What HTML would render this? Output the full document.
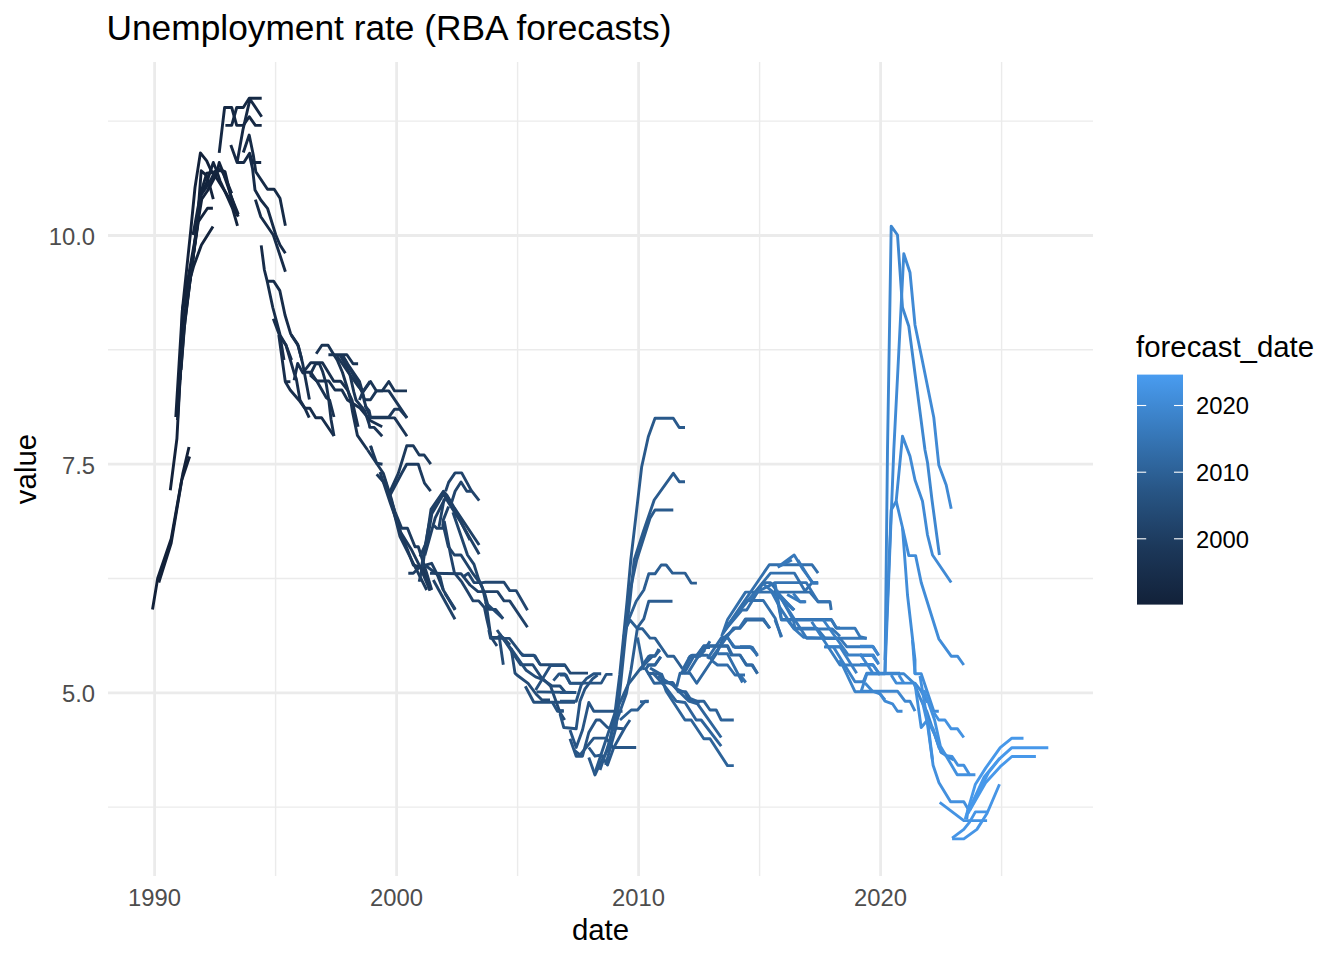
<!DOCTYPE html>
<html><head><meta charset="utf-8"><style>
html,body{margin:0;padding:0;background:#fff;width:1344px;height:960px;overflow:hidden}
svg{display:block}
text{font-family:"Liberation Sans",sans-serif}
</style></head><body>
<svg width="1344" height="960" viewBox="0 0 1344 960">
<defs><linearGradient id="cb" x1="0" y1="1" x2="0" y2="0">
<stop offset="0" stop-color="#122139"/>
<stop offset="0.25" stop-color="#1c385a"/>
<stop offset="0.5" stop-color="#285686"/>
<stop offset="0.75" stop-color="#3779bb"/>
<stop offset="1" stop-color="#499cf0"/>
</linearGradient></defs>
<rect width="1344" height="960" fill="#fff"/>
<line x1="108" x2="1093" y1="121.17" y2="121.17" stroke="#ebebeb" stroke-width="1.4"/>
<line x1="108" x2="1093" y1="349.82" y2="349.82" stroke="#ebebeb" stroke-width="1.4"/>
<line x1="108" x2="1093" y1="578.47" y2="578.47" stroke="#ebebeb" stroke-width="1.4"/>
<line x1="108" x2="1093" y1="807.12" y2="807.12" stroke="#ebebeb" stroke-width="1.4"/>
<line y1="62" y2="876" x1="275.60" x2="275.60" stroke="#ebebeb" stroke-width="1.4"/>
<line y1="62" y2="876" x1="517.60" x2="517.60" stroke="#ebebeb" stroke-width="1.4"/>
<line y1="62" y2="876" x1="759.60" x2="759.60" stroke="#ebebeb" stroke-width="1.4"/>
<line y1="62" y2="876" x1="1001.60" x2="1001.60" stroke="#ebebeb" stroke-width="1.4"/>
<line x1="108" x2="1093" y1="235.50" y2="235.50" stroke="#ebebeb" stroke-width="2.8"/>
<line x1="108" x2="1093" y1="464.15" y2="464.15" stroke="#ebebeb" stroke-width="2.8"/>
<line x1="108" x2="1093" y1="692.80" y2="692.80" stroke="#ebebeb" stroke-width="2.8"/>
<line y1="62" y2="876" x1="154.60" x2="154.60" stroke="#ebebeb" stroke-width="2.8"/>
<line y1="62" y2="876" x1="396.60" x2="396.60" stroke="#ebebeb" stroke-width="2.8"/>
<line y1="62" y2="876" x1="638.60" x2="638.60" stroke="#ebebeb" stroke-width="2.8"/>
<line y1="62" y2="876" x1="880.60" x2="880.60" stroke="#ebebeb" stroke-width="2.8"/>
<g stroke-width="2.9" stroke-linejoin="round" stroke-linecap="butt"><polyline fill="none" stroke="#122139" points="152.5,609.6 157.7,578.3 171.2,538.8 182.7,474.2 189.0,447.0"/>
<polyline fill="none" stroke="#122139" points="158.8,582.5 171.2,543.0 181.7,480.4 189.6,456.5"/>
<polyline fill="none" stroke="#13223b" points="170.3,490.2 176.9,438.8 181.3,355.6 182.4,309.7 190.8,230.0 195.0,187.5 200.4,152.9 206.7,160.8 210.8,170.0 216.7,178.3 228.3,196.7 238.3,216.7"/>
<polyline fill="none" stroke="#13233c" points="175.8,417.0 182.4,309.7 196.7,230.0 201.2,170.8 205.0,174.2 207.5,177.5 213.3,199.2"/>
<polyline fill="none" stroke="#13233c" points="177.5,420.0 183.0,330.0 197.5,225.0 201.7,199.2 207.5,190.8 213.3,180.0 216.7,173.3 219.2,162.5 222.5,170.8 228.3,187.5 237.5,215.8"/>
<polyline fill="none" stroke="#13233c" points="178.0,400.0 184.0,320.0 198.3,221.7 207.5,208.3 212.9,208.3"/>
<polyline fill="none" stroke="#13243d" points="180.0,380.0 184.0,330.0 200.8,193.3 205.8,185.0 213.3,162.5 216.7,170.8 220.0,180.8 225.0,191.7 232.5,208.3 237.5,225.8"/>
<polyline fill="none" stroke="#13243d" points="181.0,370.0 185.0,320.0 201.7,190.0 206.7,173.3 213.3,172.5 218.3,169.2 225.0,171.7 230.8,195.8 238.3,214.2"/>
<polyline fill="none" stroke="#13243d" points="182.8,309.6 188.3,285.6 193.7,265.9 201.4,245.1 213.0,226.6"/>
<polyline fill="none" stroke="#152843" points="219.2,152.9 224.6,107.5 231.7,107.5 236.7,125.4 243.3,125.4 249.2,116.7 255.4,125.4 261.7,125.4"/>
<polyline fill="none" stroke="#152944" points="225.4,125.4 231.7,125.4 236.7,107.5 243.3,107.5 249.2,98.3 261.7,98.3"/>
<polyline fill="none" stroke="#162945" points="230.8,145.0 237.1,162.5 242.9,130.0 250.0,99.2 261.7,116.7"/>
<polyline fill="none" stroke="#162a46" points="237.1,162.5 243.8,162.5 249.6,153.3 252.5,162.5 261.2,162.5"/>
<polyline fill="none" stroke="#162b47" points="243.3,152.5 249.2,135.0 253.3,155.0 255.8,171.7 267.5,189.2 274.2,189.2 280.0,198.3 285.4,225.8"/>
<polyline fill="none" stroke="#162b48" points="249.2,154.2 252.5,168.3 255.0,190.0 260.8,200.0 267.5,208.3 275.8,235.0 280.0,245.0 285.4,253.3"/>
<polyline fill="none" stroke="#172c49" points="255.4,199.6 260.8,216.7 273.3,235.0 285.4,271.7"/>
<polyline fill="none" stroke="#172c49" points="261.2,245.4 264.4,270.0 267.2,281.2 273.7,281.2 279.8,290.6 285.0,315.0 290.6,333.7 297.6,344.0 301.9,360.0"/>
<polyline fill="none" stroke="#172d4a" points="267.2,281.2 272.8,307.5 280.3,335.6 285.9,345.0 291.6,360.0"/>
<polyline fill="none" stroke="#182e4b" points="273.3,318.7 280.3,337.5 284.0,360.0"/>
<polyline fill="none" stroke="#182e4c" points="278.8,335.0 285.3,381.7 290.2,390.0 299.0,400.2 304.8,408.2 309.9,408.2 315.7,417.7 321.6,417.7 334.0,436.0"/>
<polyline fill="none" stroke="#182e4c" points="278.8,335.0 286.0,345.2 294.1,372.9 296.3,378.8 300.0,400.0 304.8,408.2 309.2,417.7"/>
<polyline fill="none" stroke="#182f4d" points="285.3,381.7 290.4,381.7"/>
<polyline fill="none" stroke="#18304e" points="291.2,335.0 298.4,346.0 302.8,364.2 309.4,399.5"/>
<polyline fill="none" stroke="#19304f" points="294.1,380.2 297.7,363.4 302.8,372.9 310.8,362.7 322.5,362.7 333.8,381.2 340.6,381.2 347.5,390.0 352.0,400.0 358.1,426.7"/>
<polyline fill="none" stroke="#193150" points="302.1,372.2 310.8,372.2 316.7,381.0 328.8,381.0 335.0,390.0 341.9,390.0 347.5,400.0 360.0,408.0 365.0,414.0 370.5,420.8 382.2,426.7"/>
<polyline fill="none" stroke="#193251" points="310.0,375.0 315.6,363.8 319.4,363.8 322.5,371.2 326.2,383.8 328.8,400.0 331.0,419.2 334.0,436.0"/>
<polyline fill="none" stroke="#193251" points="310.0,375.0 316.9,381.2 326.2,397.5 329.6,400.2 334.0,417.0"/>
<polyline fill="none" stroke="#1a3352" points="316.2,353.8 321.9,345.3 328.1,345.3 333.1,353.4 337.5,360.6 342.5,372.5 347.5,388.8 350.6,400.0 352.3,410.6 357.4,435.4 367.6,450.0"/>
<polyline fill="none" stroke="#1a3454" points="328.4,354.7 346.9,354.7 353.1,363.8 358.1,363.8"/>
<polyline fill="none" stroke="#1b3556" points="340.0,355.0 345.0,363.8 350.0,375.0 353.8,391.9 356.0,400.0 364.7,410.6 369.1,424.0 369.8,427.4 374.2,427.4 382.2,436.2"/>
<polyline fill="none" stroke="#1b3556" points="342.5,355.0 347.5,363.8 359.4,381.2 362.5,391.9 364.0,400.0 366.0,407.0 370.5,417.9 394.6,417.9 407.0,436.2"/>
<polyline fill="none" stroke="#1b3555" points="337.0,356.0 348.0,372.0 358.0,386.0 363.2,391.7 370.5,381.5 376.4,390.9 382.2,390.9 388.8,381.5 394.6,390.9 407.0,390.9"/>
<polyline fill="none" stroke="#1b3657" points="345.0,360.0 355.0,378.0 362.0,392.0 364.7,399.7 370.5,399.7 376.4,390.9 388.8,390.9 407.0,417.9"/>
<polyline fill="none" stroke="#1c385a" points="364.7,405.5 369.1,410.6 370.5,417.2 388.8,417.2 394.6,409.2 399.6,409.2 407.0,417.9"/>
<polyline fill="none" stroke="#1c3759" points="370.0,381.2 363.1,391.2 359.4,400.0"/>
<polyline fill="none" stroke="#1c395b" points="370.5,445.6 372.0,450.0"/>
<polyline fill="none" stroke="#1d3a5c" points="376.7,474.2 383.3,481.7 389.2,493.3 398.3,473.3 406.7,445.8 413.3,445.8 419.2,455.0 424.2,455.0 430.8,464.2"/>
<polyline fill="none" stroke="#1d3b5f" points="389.2,496.7 401.7,473.3 406.7,464.2 418.3,464.2 420.1,470.0 424.5,483.1 430.7,491.2"/>
<polyline fill="none" stroke="#1c385a" points="367.6,450.0 383.3,473.3 391.7,500.0 398.3,526.7 408.3,551.7 413.3,565.0 423.3,568.3 430.0,590.0"/>
<polyline fill="none" stroke="#1c395b" points="370.8,446.7 376.7,463.3 382.5,464.2"/>
<polyline fill="none" stroke="#1d3b5e" points="385.0,480.0 393.3,510.0 400.0,536.7 413.3,563.3 426.7,590.0"/>
<polyline fill="none" stroke="#1d3b5e" points="387.0,488.0 395.0,511.7 401.7,528.3 407.5,528.3 415.0,546.7 418.3,546.7 426.7,573.3 431.7,590.0"/>
<polyline fill="none" stroke="#1e3e63" points="408.3,573.3 413.3,573.3 420.0,566.7 431.7,563.3 436.7,573.3 443.3,590.0"/>
<polyline fill="none" stroke="#1f4065" points="419.2,581.7 423.3,561.7 431.0,509.4 443.4,491.2 447.1,495.5 454.4,507.9 479.2,545.0"/>
<polyline fill="none" stroke="#1f4065" points="420.0,556.7 427.4,540.0 431.8,513.8 443.4,494.1 448.6,502.8 460.2,521.1 479.2,554.2"/>
<polyline fill="none" stroke="#21436b" points="445.6,491.2 448.6,482.4 455.1,472.9 461.7,472.9 471.2,490.4 479.2,500.6"/>
<polyline fill="none" stroke="#21446c" points="451.5,502.8 455.1,491.2 461.0,482.0 466.8,491.2 471.2,491.2"/>
<polyline fill="none" stroke="#204268" points="434.0,525.4 436.9,528.4 442.7,528.4 443.4,519.6 448.6,506.5"/>
<polyline fill="none" stroke="#204369" points="439.0,526.9 444.2,498.4"/>
<polyline fill="none" stroke="#20436a" points="443.0,524.0 448.3,546.7 454.4,555.0 461.0,555.0 473.0,573.7 480.6,584.0 484.4,592.5 489.0,609.4 495.6,609.4 503.1,618.7"/>
<polyline fill="none" stroke="#21456c" points="452.9,512.3 462.4,540.0 467.5,555.0 474.0,564.4 478.7,579.4 482.5,587.8 486.2,603.7 490.9,637.5 503.0,637.5 510.0,645.0"/>
<polyline fill="none" stroke="#21436b" points="444.2,521.1 447.8,540.0 450.6,555.0 454.4,572.8 461.9,582.2 467.5,591.6 473.1,600.9 478.7,600.9 484.4,607.5 487.0,620.0 491.0,637.0 497.0,646.0"/>
<polyline fill="none" stroke="#204168" points="430.0,573.3 461.0,573.7 470.0,585.0 478.0,591.6 497.5,591.6 504.0,600.9 509.7,600.9 527.5,627.2"/>
<polyline fill="none" stroke="#22466f" points="463.3,576.7 468.3,573.3 474.0,582.6 482.5,582.6 485.3,582.2 504.0,582.2 509.7,590.6 516.2,590.6 527.5,610.3"/>
<polyline fill="none" stroke="#234973" points="485.0,602.0 503.1,618.7"/>
<polyline fill="none" stroke="#1f4166" points="425.0,565.0 440.0,576.7 443.3,590.0 455.0,610.0"/>
<polyline fill="none" stroke="#204268" points="433.3,580.0 455.0,619.2"/>
<polyline fill="none" stroke="#21436b" points="445.0,593.4 455.3,609.4"/>
<polyline fill="none" stroke="#234a74" points="488.8,630.0 490.6,638.4 509.4,638.4 522.5,655.3 533.8,655.3 540.3,664.7 564.7,664.7 570.3,673.1 588.0,673.1"/>
<polyline fill="none" stroke="#244b76" points="497.0,630.0 505.6,642.2 520.6,664.7 532.8,664.7 541.0,677.0 550.6,686.2 560.0,712.5 564.7,720.0"/>
<polyline fill="none" stroke="#244b76" points="499.0,635.0 503.3,664.7"/>
<polyline fill="none" stroke="#244b76" points="499.5,634.0 511.2,648.8 515.0,673.1 516.9,675.0 528.1,683.4 536.0,694.0 542.0,700.0 550.0,700.0"/>
<polyline fill="none" stroke="#244d79" points="511.2,648.8 526.2,670.3 535.6,676.9 543.1,679.7 552.0,686.0 560.0,686.0 565.0,692.0"/>
<polyline fill="none" stroke="#254f7c" points="525.3,686.2 533.8,702.2 575.0,702.2"/>
<polyline fill="none" stroke="#26507e" points="535.6,690.0 550.6,665.6 565.0,665.6"/>
<polyline fill="none" stroke="#275382" points="553.4,680.6 559.0,674.0 564.7,674.0 570.3,683.4 580.0,683.4"/>
<polyline fill="none" stroke="#26517e" points="536.5,691.9 576.2,692.5"/>
<polyline fill="none" stroke="#254e7b" points="520.0,652.5 523.8,655.6 535.0,655.6 540.0,664.4"/>
<polyline fill="none" stroke="#275483" points="560.0,710.6 563.7,710.6"/>
<polyline fill="none" stroke="#275381" points="552.5,702.5 557.5,711.2 563.8,711.2"/>
<polyline fill="none" stroke="#275483" points="560.0,675.0 566.2,675.0 570.0,683.1 601.2,683.1 606.2,674.4 612.5,674.4"/>
<polyline fill="none" stroke="#275483" points="560.0,692.5 576.2,692.5"/>
<polyline fill="none" stroke="#275483" points="560.0,701.2 576.2,701.2 581.2,685.0 586.2,678.8 593.8,673.8 601.2,673.8"/>
<polyline fill="none" stroke="#275483" points="560.0,713.8 563.8,727.5 576.2,728.8 580.0,701.2 585.0,688.8 592.5,678.8 597.5,675.0"/>
<polyline fill="none" stroke="#285585" points="570.0,730.0 576.2,747.5 582.5,730.0 588.8,702.5 593.8,711.2 622.5,711.2"/>
<polyline fill="none" stroke="#285585" points="570.0,738.8 576.2,756.2 582.5,756.2 588.8,732.5 596.2,720.0 600.0,720.0 607.5,727.5 623.8,728.8"/>
<polyline fill="none" stroke="#285686" points="573.8,750.0 580.0,755.0 593.8,738.1 606.2,738.1 611.2,745.0 612.5,747.5 636.2,747.5"/>
<polyline fill="none" stroke="#29588a" points="588.8,757.5 595.0,775.0 600.0,763.8 606.2,752.5 610.0,746.2"/>
<polyline fill="none" stroke="#29588a" points="588.8,747.5 595.0,756.2 601.2,755.0 607.5,765.0 613.8,747.5 625.0,727.5 630.0,720.0"/>
<polyline fill="none" stroke="#29598b" points="594.4,774.5 603.8,746.3 615.0,712.6 619.7,675.0 623.5,637.5 627.2,600.0 630.8,560.0 641.7,466.7 648.3,436.7 655.0,418.3 673.3,418.3 679.2,427.5 685.0,427.5"/>
<polyline fill="none" stroke="#2a5b8e" points="605.6,765.0 616.0,727.6 620.6,684.4 625.3,637.5 630.0,600.0 634.2,560.0 643.3,531.7 654.2,500.0 673.3,473.3 679.2,481.7 685.0,481.7"/>
<polyline fill="none" stroke="#2a5a8c" points="600.0,770.0 610.0,740.0 618.0,700.0 622.0,660.0 628.0,600.0 636.7,560.0 650.0,518.3 655.0,510.0 673.3,510.0"/>
<polyline fill="none" stroke="#2a5c8e" points="607.5,750.0 618.8,705.0 628.2,684.4 641.3,667.5 652.5,656.3"/>
<polyline fill="none" stroke="#2b5e92" points="620.0,720.0 631.2,710.0 637.5,710.0 645.0,701.2 648.8,701.2"/>
<polyline fill="none" stroke="#2c5e92" points="623.5,637.5 627.5,622.5 636.2,601.2 643.8,590.0 648.8,573.8 655.0,573.8 661.2,565.0 666.2,565.0 672.5,573.1 685.0,573.1 691.2,583.1 696.9,583.1"/>
<polyline fill="none" stroke="#2b5c90" points="613.0,731.0 626.3,693.8 631.0,670.0 637.5,627.5 643.8,618.8 648.8,601.2 672.5,601.2"/>
<polyline fill="none" stroke="#2c5f93" points="626.2,627.5 630.0,620.0 637.5,628.8 642.5,628.8 650.0,638.1 655.0,638.1 667.5,656.2 673.8,656.2 682.5,668.8"/>
<polyline fill="none" stroke="#2d6196" points="637.5,637.5 643.8,670.0"/>
<polyline fill="none" stroke="#2d6197" points="642.5,665.0 648.8,656.2 655.0,656.2 658.8,648.8"/>
<polyline fill="none" stroke="#2d6298" points="645.0,670.0 648.8,665.0 655.0,665.0 660.6,656.9"/>
<polyline fill="none" stroke="#3068a1" points="682.5,670.0 690.0,656.2 696.2,656.2 702.5,647.5 710.0,647.5"/>
<polyline fill="none" stroke="#2d6197" points="640.0,670.0 646.7,661.7 650.0,655.8 655.0,655.8 660.0,650.0"/>
<polyline fill="none" stroke="#2d6298" points="646.7,665.0 655.0,665.0 660.8,656.7"/>
<polyline fill="none" stroke="#2d6197" points="640.0,701.7 648.3,701.7"/>
<polyline fill="none" stroke="#2f67a0" points="676.7,686.7 680.0,673.3 690.0,673.3 696.7,683.3 706.7,668.3 716.7,653.3 723.3,638.3 735.0,628.3 740.0,628.3 746.7,620.0 763.3,620.0 770.0,628.3"/>
<polyline fill="none" stroke="#3678b9" points="775.0,620.0 781.7,636.7"/>
<polyline fill="none" stroke="#3069a3" points="688.3,658.8 691.9,655.2 707.4,655.2 712.1,660.0"/>
<polyline fill="none" stroke="#316aa5" points="696.7,658.8 703.8,645.7 727.6,645.7 732.4,655.2"/>
<polyline fill="none" stroke="#326ca8" points="707.4,658.8 721.7,637.4 727.6,637.4 733.6,646.9 751.4,646.9 757.4,655.2"/>
<polyline fill="none" stroke="#326da9" points="711.0,658.8 733.6,627.9 739.5,627.9 745.5,618.9 763.3,618.9 769.3,627.9"/>
<polyline fill="none" stroke="#336fab" points="721.7,636.2 727.6,619.5 745.5,592.1 809.8,592.1 818.1,601.7 830.0,601.7 831.2,610.0"/>
<polyline fill="none" stroke="#336fac" points="722.9,633.8 745.5,600.5 763.3,600.5 775.2,618.3 781.2,637.4"/>
<polyline fill="none" stroke="#336fac" points="724.0,631.4 741.9,610.0 746.7,610.0 763.3,582.6 770.5,582.6 775.2,588.6 781.2,619.5 831.2,619.5 836.0,627.9 840.0,627.9"/>
<polyline fill="none" stroke="#336fac" points="725.2,629.0 769.3,564.8 812.1,564.8 818.1,573.1"/>
<polyline fill="none" stroke="#3370ad" points="727.6,625.5 770.5,573.1 794.3,573.1 805.0,591.0 812.1,582.6 818.1,582.6"/>
<polyline fill="none" stroke="#3573b2" points="749.0,599.3 758.6,591.0 775.2,582.6 806.2,582.6 818.1,601.7 830.0,601.7"/>
<polyline fill="none" stroke="#3676b6" points="763.3,583.8 794.3,610.0"/>
<polyline fill="none" stroke="#3677b8" points="770.5,589.8 780.0,607.6 794.3,629.0 832.4,629.0 840.0,636.2"/>
<polyline fill="none" stroke="#3778ba" points="778.8,594.5 794.3,610.0"/>
<polyline fill="none" stroke="#377abc" points="787.1,594.5 800.2,601.7 806.2,601.7"/>
<polyline fill="none" stroke="#3778ba" points="777.6,567.1 791.9,560.0"/>
<polyline fill="none" stroke="#387bbf" points="797.9,560.0 812.1,582.6 818.1,582.6"/>
<polyline fill="none" stroke="#377abc" points="787.1,619.5 794.3,629.0 803.8,637.4 840.0,638.6"/>
<polyline fill="none" stroke="#3b80c5" points="824.0,646.9 840.0,646.9"/>
<polyline fill="none" stroke="#3778ba" points="778.3,566.7 794.2,555.0 803.3,570.0 813.3,583.3 818.3,583.3"/>
<polyline fill="none" stroke="#3678b9" points="775.0,583.3 781.7,620.0 831.7,620.0 836.7,628.3 855.0,628.3 860.0,636.7 866.7,638.3"/>
<polyline fill="none" stroke="#3778b9" points="776.7,590.0 793.3,620.0 795.0,628.3 816.7,628.3 825.0,638.3 866.7,638.3"/>
<polyline fill="none" stroke="#3778ba" points="780.0,596.7 806.7,638.3 840.0,638.3 846.7,646.7 873.3,646.7 878.3,655.0"/>
<polyline fill="none" stroke="#3a80c5" points="823.3,620.0 848.3,655.0 873.3,655.0 878.3,663.3"/>
<polyline fill="none" stroke="#397ec2" points="811.7,621.7 840.0,665.0 873.3,665.0 880.0,675.0"/>
<polyline fill="none" stroke="#3b80c6" points="825.0,646.7 840.0,646.7 856.7,673.3"/>
<polyline fill="none" stroke="#3b81c8" points="833.3,646.7 855.0,681.7 863.3,681.7 866.7,673.3 900.0,673.3"/>
<polyline fill="none" stroke="#3c83c9" points="840.0,660.0 855.0,691.7 878.3,691.7 885.0,700.0"/>
<polyline fill="none" stroke="#3472b0" points="740.0,646.7 750.0,646.7 757.5,655.0"/>
<polyline fill="none" stroke="#3472b0" points="740.0,655.0 746.7,665.0 751.7,665.0 757.5,673.3"/>
<polyline fill="none" stroke="#3472b0" points="740.0,675.0 745.8,682.5"/>
<polyline fill="none" stroke="#3778ba" points="778.3,593.3 793.3,610.0"/>
<polyline fill="none" stroke="#387bbe" points="793.3,593.3 800.0,601.7 805.0,601.7"/>
<polyline fill="none" stroke="#3e87d0" points="866.2,673.8 885.0,673.8 887.5,450.0 891.2,226.2 897.5,235.0 902.5,307.5 908.8,326.2 925.0,450.0 927.5,462.5 932.0,500.0 939.4,555.0"/>
<polyline fill="none" stroke="#408ad5" points="885.0,672.5 893.8,450.0 903.8,253.8 910.0,272.5 915.0,325.0 921.2,355.0 933.8,417.5 938.8,465.0 946.2,485.0 951.2,508.8"/>
<polyline fill="none" stroke="#408ad5" points="885.0,660.0 891.2,510.0 896.2,501.2 902.5,436.2 910.0,456.2 915.0,480.0 922.5,501.2 927.5,535.0 932.5,555.0 951.2,582.5"/>
<polyline fill="none" stroke="#418cd8" points="896.2,501.2 902.5,527.5 908.8,555.6 915.6,555.6 921.2,582.5 938.8,638.8 951.2,656.2 957.5,656.2 963.8,665.0"/>
<polyline fill="none" stroke="#418dd9" points="902.5,527.5 907.5,595.0 915.0,660.0 915.0,673.8 921.2,673.8 927.5,692.5 933.8,711.2 938.8,711.2"/>
<polyline fill="none" stroke="#428fdc" points="912.5,640.0 915.0,673.8"/>
<polyline fill="none" stroke="#3e87d0" points="866.2,673.8 903.8,673.8 913.8,683.1 921.0,700.0 927.0,712.0 933.0,730.0 941.2,752.5 947.5,756.2 953.8,760.0"/>
<polyline fill="none" stroke="#3e86cf" points="861.2,691.2 866.9,673.8"/>
<polyline fill="none" stroke="#3e86cf" points="860.0,691.2 897.5,691.2 905.0,701.2 910.0,701.2 915.0,711.2"/>
<polyline fill="none" stroke="#3f89d4" points="880.0,693.8 885.0,701.2 892.5,703.8 897.5,711.2 902.5,711.2"/>
<polyline fill="none" stroke="#3e87d0" points="865.0,683.0 872.5,691.2 880.0,693.8"/>
<polyline fill="none" stroke="#408bd6" points="891.2,675.0 896.2,683.1 915.0,683.1 921.2,691.2 927.5,702.5"/>
<polyline fill="none" stroke="#418cd8" points="898.8,675.0 903.8,683.1"/>
<polyline fill="none" stroke="#428fdc" points="915.0,683.8 921.2,727.5 927.5,720.0 935.0,735.0 941.2,752.5"/>
<polyline fill="none" stroke="#4391e0" points="927.5,720.0 932.5,760.0"/>
<polyline fill="none" stroke="#4492e1" points="933.8,712.5 938.8,720.0 945.0,720.0 951.2,728.8 957.5,728.8 963.8,737.5"/>
<polyline fill="none" stroke="#3e86cf" points="860.0,646.2 872.5,646.2 878.8,655.6"/>
<polyline fill="none" stroke="#3e86cf" points="860.0,655.6 872.5,655.6 878.8,664.4"/>
<polyline fill="none" stroke="#3e86cf" points="860.0,664.4 872.5,664.4 878.8,673.0"/>
<polyline fill="none" stroke="#3e86cf" points="860.0,653.8 872.5,672.5"/>
<polyline fill="none" stroke="#4390de" points="920.0,676.0 927.3,720.0 933.1,728.8 939.0,747.7 946.2,755.7 952.1,756.5 957.9,765.2 963.8,765.2 969.6,774.7 975.4,774.7"/>
<polyline fill="none" stroke="#4391df" points="924.0,690.0 934.6,720.0 940.4,746.2 957.2,774.7 969.6,774.7"/>
<polyline fill="none" stroke="#4390de" points="922.0,700.0 927.3,722.9 933.1,765.2 939.0,782.7 950.6,801.7 963.8,801.7 968.1,809.0 966.7,819.2"/>
<polyline fill="none" stroke="#4493e3" points="939.7,802.4 963.8,820.6 987.1,820.6"/>
<polyline fill="none" stroke="#4695e6" points="952.1,838.1 963.8,829.4 969.6,822.1 975.4,811.9 987.1,811.9"/>
<polyline fill="none" stroke="#4695e6" points="952.1,838.9 963.8,838.9 976.9,829.4 987.1,813.3 999.5,784.2"/>
<polyline fill="none" stroke="#4798e9" points="965.2,819.2 975.4,784.2 985.6,768.1 1000.2,747.7 1011.9,738.2 1023.5,738.2"/>
<polyline fill="none" stroke="#4798ea" points="966.7,814.8 984.2,776.9 998.8,759.4 1011.9,747.7 1048.3,747.7"/>
<polyline fill="none" stroke="#4798ea" points="969.6,810.4 985.6,782.7 1000.2,766.7 1011.9,756.5 1035.9,756.5"/>
<polyline fill="none" stroke="#4798ea" points="968.1,813.3 978.3,792.9 988.5,772.5 1000.2,757.9"/>
<polyline fill="none" stroke="#1f4066" points="421.7,565.8 428.0,530.0 432.1,509.6 443.5,491.9 448.0,498.0 458.0,516.0 470.0,540.0"/>
<polyline fill="none" stroke="#1f4066" points="424.8,555.4 435.2,517.9 442.5,503.3 446.0,498.0"/>
<polyline fill="none" stroke="#1d3a5d" points="380.0,472.0 390.4,503.3 400.8,532.5 411.2,549.2 419.6,565.8 430.0,590.8"/>
<polyline fill="none" stroke="#14253f" points="193.0,235.0 200.0,196.7 205.0,189.2 210.0,181.7 213.3,175.0 217.5,170.8 221.7,170.8 224.2,175.0 228.3,185.0 231.7,193.3"/>
<polyline fill="none" stroke="#2d6298" points="645.8,669.2 654.2,683.3 672.5,682.5 676.2,688.8 685.0,692.5 690.0,701.2 703.8,701.2 710.0,710.0 716.2,710.0 721.2,720.0 733.8,720.0"/>
<polyline fill="none" stroke="#2d6299" points="647.5,673.3 661.7,674.2 665.0,682.5 673.3,683.3 678.3,691.7 685.8,691.7 690.0,698.3 700.0,702.5"/>
<polyline fill="none" stroke="#2d6399" points="650.0,668.0 660.0,673.8 666.2,691.2 685.0,720.0 691.2,720.0 703.8,738.8 710.0,738.8 727.5,765.6 733.8,765.6"/>
<polyline fill="none" stroke="#2e639a" points="652.0,672.0 663.8,685.0 676.2,701.2 685.0,702.5 696.2,720.0 701.2,720.0 721.2,746.2"/>
<polyline fill="none" stroke="#2e649b" points="658.0,676.0 672.5,685.0 688.8,701.2 697.5,703.8 721.2,737.5"/>
<polyline fill="none" stroke="#3068a1" points="681.2,673.8 691.2,655.6 697.5,655.6 703.8,646.2 727.5,646.2 731.2,655.0 740.0,655.0 746.2,665.0 752.5,665.0 757.5,673.8"/>
<polyline fill="none" stroke="#3068a2" points="683.8,673.8 693.8,656.2 700.0,656.2 710.0,641.2"/>
<polyline fill="none" stroke="#3069a3" points="687.5,673.8 697.5,657.5 705.0,650.0"/>
<polyline fill="none" stroke="#326da9" points="712.5,661.2 717.5,665.0 727.5,665.0 735.0,675.0 745.0,675.0"/>
<polyline fill="none" stroke="#326eaa" points="717.5,653.8 727.5,653.8 742.5,682.5"/>
<polyline fill="none" stroke="#3370ad" points="727.5,637.5 735.0,647.5 752.5,647.5 757.5,656.2"/></g>
<text x="106.5" y="40" font-size="35.3" fill="#000">Unemployment rate (RBA forecasts)</text>
<g font-size="23.8" fill="#4d4d4d">
<text x="154.60" y="906" text-anchor="middle">1990</text>
<text x="396.60" y="906" text-anchor="middle">2000</text>
<text x="638.60" y="906" text-anchor="middle">2010</text>
<text x="880.60" y="906" text-anchor="middle">2020</text>
<text x="95" y="245.10" text-anchor="end">10.0</text>
<text x="95" y="473.75" text-anchor="end">7.5</text>
<text x="95" y="702.40" text-anchor="end">5.0</text>
</g>
<text x="600.5" y="940" font-size="29.4" text-anchor="middle" fill="#000">date</text>
<text transform="translate(35.5,469) rotate(-90)" font-size="29.4" text-anchor="middle" fill="#000">value</text>
<text x="1136" y="357" font-size="29.4" fill="#000">forecast_date</text>
<rect x="1137" y="374.6" width="46" height="230" fill="url(#cb)"/>
<g stroke="#fff" stroke-width="1.1">
<line x1="1137" x2="1146.2" y1="405.5" y2="405.5"/><line x1="1174" x2="1183" y1="405.5" y2="405.5"/>
<line x1="1137" x2="1146.2" y1="472.2" y2="472.2"/><line x1="1174" x2="1183" y1="472.2" y2="472.2"/>
<line x1="1137" x2="1146.2" y1="538.8" y2="538.8"/><line x1="1174" x2="1183" y1="538.8" y2="538.8"/>
</g>
<g font-size="23.8" fill="#000">
<text x="1196" y="414">2020</text>
<text x="1196" y="481">2010</text>
<text x="1196" y="547.5">2000</text>
</g>
</svg>
</body></html>
